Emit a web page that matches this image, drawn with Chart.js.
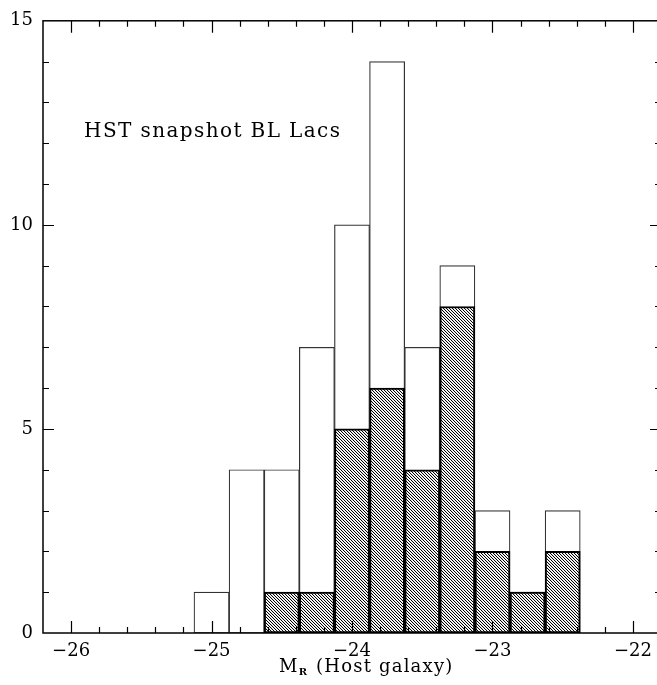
<!DOCTYPE html>
<html><head><meta charset="utf-8">
<script src="https://cdn.jsdelivr.net/npm/chart.js@4/dist/chart.umd.min.js"></script>
<style>
html,body{margin:0;padding:0;background:#fff;overflow:hidden;}
#wrap{width:657px;height:685px;overflow:hidden;position:relative;background:#fff;}
#box{width:666px;height:685px;position:absolute;left:0;top:0;}
</style></head><body>
<div id="wrap"><div id="box"><canvas id="c"></canvas></div></div>
<script>
// ---- data ----
const binCenters = [-25.0, -24.75, -24.5, -24.25, -24.0, -23.75, -23.5, -23.25, -23.0, -22.75, -22.5];
const allCounts = [1, 4, 4, 7, 10, 14, 7, 9, 3, 1, 3];
const hatchedCounts = [null, null, 1, 1, 5, 6, 4, 8, 2, 1, 2];
const xTickValues = [-26, -25, -24, -23, -22];
const xTickLabels = ['\u221226', '\u221225', '\u221224', '\u221223', '\u221222'];
const yTickValues = [0, 5, 10, 15];
const yTickLabels = ['0', '5', '10', '15'];
const panelLabel = 'HST snapshot BL Lacs';
const xTitleMain = 'M', xTitleSub = 'R', xTitleRest = ' (Host galaxy)';

const FONT = '"DejaVu Serif", "Liberation Serif", serif';

function makeHatch() {
  const c = document.createElement('canvas');
  c.width = 3; c.height = 3;
  const g = c.getContext('2d');
  g.fillStyle = '#fff'; g.fillRect(0, 0, 3, 3);
  for (let i = 0; i < 3; i++) {
    g.fillStyle = '#000'; g.fillRect(i, i, 1, 1);
    g.fillStyle = '#e4e4e4'; g.fillRect((i + 1) % 3, i, 1, 1);
  }
  return g.createPattern(c, 'repeat');
}

function spaced(ctx, px) { if ('letterSpacing' in ctx) ctx.letterSpacing = px + 'px'; }

const framePlugin = {
  id: 'frame',
  afterDatasetsDraw(chart) {
    const ctx = chart.ctx, a = chart.chartArea;
    const xs = chart.scales.x, ys = chart.scales.y;
    ctx.save();
    ctx.strokeStyle = '#000';
    ctx.lineWidth = 1.5;
    ctx.strokeRect(a.left, a.top, a.right - a.left, a.bottom - a.top);
    ctx.lineWidth = 1.2;
    ctx.beginPath();
    for (let k = -131; k <= -109; k++) {
      const v = k / 5;
      const px = Math.round(xs.getPixelForValue(v)) + 0.5;
      if (px < a.left + 1 || px > a.right - 1) continue;
      const len = (k % 5 === 0) ? 12 : 6;
      ctx.moveTo(px, a.bottom); ctx.lineTo(px, a.bottom - len);
      ctx.moveTo(px, a.top); ctx.lineTo(px, a.top + len);
    }
    for (let v = 1; v < 15; v++) {
      const py = Math.round(ys.getPixelForValue(v)) + 0.5;
      const len = (v % 5 === 0) ? 11 : 6;
      ctx.moveTo(a.left, py); ctx.lineTo(a.left + len, py);
      ctx.moveTo(a.right, py); ctx.lineTo(a.right - len, py);
    }
    ctx.stroke();

    // panel label
    ctx.fillStyle = '#000';
    ctx.font = '20px ' + FONT;
    spaced(ctx, 1.4);
    ctx.textBaseline = 'alphabetic';
    ctx.textAlign = 'left';
    ctx.fillText(panelLabel, xs.getPixelForValue(-26) + 13, ys.getPixelForValue(12.15));

    // x-axis title with subscript
    spaced(ctx, 1.2);
    ctx.font = '18px ' + FONT;
    const wM = ctx.measureText(xTitleMain).width;
    ctx.font = 'bold 10px ' + FONT;
    const wS = ctx.measureText(xTitleSub).width;
    const x0 = 279;
    const base = 672;
    ctx.font = '18px ' + FONT;
    ctx.fillText(xTitleMain, x0, base);
    ctx.font = 'bold 10px ' + FONT;
    ctx.fillText(xTitleSub, x0 + wM, base + 3);
    ctx.font = '18px ' + FONT;
    ctx.fillText(xTitleRest, x0 + wM + wS + 1, base);
    ctx.restore();
  }
};

const hatch = makeHatch();
new Chart(document.getElementById('c'), {
  type: 'bar',
  data: {
    datasets: [
      {
        label: 'hatched',
        data: binCenters.map((x, i) => ({ x: x, y: hatchedCounts[i] })),
        backgroundColor: hatch,
        borderColor: '#000',
        borderWidth: 2,
        borderSkipped: false,
        grouped: false,
        order: 0,
        categoryPercentage: 1,
        barPercentage: 1
      },
      {
        label: 'all',
        data: binCenters.map((x, i) => ({ x: x, y: allCounts[i] })),
        backgroundColor: '#fff',
        borderColor: '#333',
        borderWidth: 1.2,
        borderSkipped: false,
        grouped: false,
        order: 1,
        categoryPercentage: 1,
        barPercentage: 1
      }
    ]
  },
  options: {
    responsive: true,
    maintainAspectRatio: false,
    animation: false,
    layout: { padding: { top: 17, right: 5, left: 0, bottom: 0 } },
    plugins: { legend: { display: false }, tooltip: { enabled: false } },
    scales: {
      x: {
        type: 'linear',
        min: -26.2, max: -21.8,
        offset: false,
        grid: { display: false, drawTicks: false },
        border: { display: false },
        afterBuildTicks(s) { s.ticks = xTickValues.map(v => ({ value: v })); },
        afterFit(s) { s.height = 52; },
        ticks: {
          autoSkip: false, maxRotation: 0, padding: 8, color: '#000',
          font: { family: FONT, size: 18 },
          callback(v) { const i = xTickValues.indexOf(v); return i >= 0 ? xTickLabels[i] : ''; }
        }
      },
      y: {
        min: 0, max: 15,
        grid: { display: false, drawTicks: false },
        border: { display: false },
        afterBuildTicks(s) { s.ticks = yTickValues.map(v => ({ value: v })); },
        afterFit(s) { s.width = 43; },
        ticks: {
          padding: 10, color: '#000',
          font: { family: FONT, size: 18 },
          callback(v) { const i = yTickValues.indexOf(v); return i >= 0 ? yTickLabels[i] : ''; }
        }
      }
    }
  },
  plugins: [framePlugin]
});
</script>
</body></html>
